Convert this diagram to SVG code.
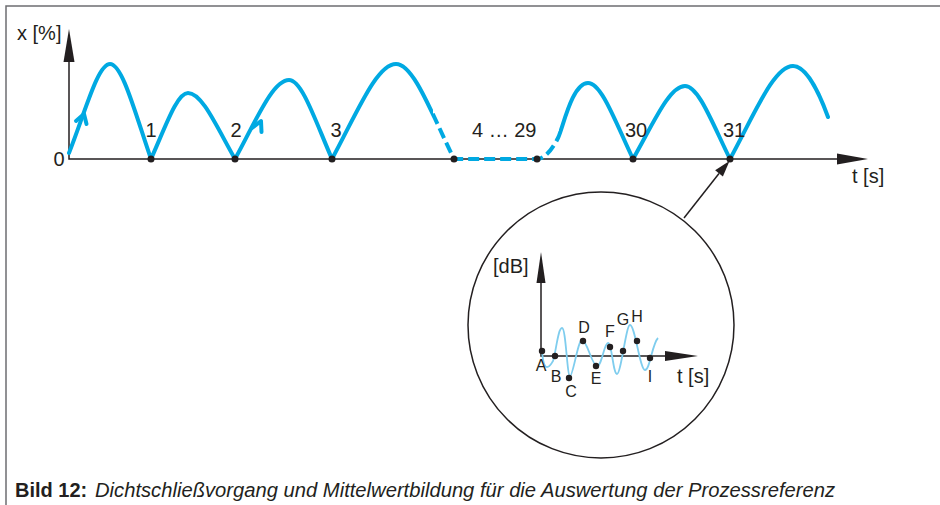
<svg xmlns="http://www.w3.org/2000/svg" width="940" height="505" viewBox="0 0 940 505">
<style>
.lbl{font-family:"Liberation Sans",Arial,sans-serif;font-size:20px;fill:#231f20}
.sm{font-family:"Liberation Sans",Arial,sans-serif;font-size:16px;fill:#231f20;text-anchor:middle}
.mid{text-anchor:middle}
.ax{stroke:#231f20;stroke-width:1.5;fill:none}
.head{fill:#231f20;stroke:none}
.curve{fill:none;stroke:#00a9e2;stroke-width:4;stroke-linecap:round;stroke-linejoin:round}
.dash{stroke-dasharray:11 5;stroke-linecap:butt}
.dot{fill:#231f20}
.wave{fill:none;stroke:#7fcdee;stroke-width:1.8}
</style>
<defs>
<clipPath id="solidClip"><rect x="0" y="0" width="433" height="505"/><rect x="559" y="0" width="381" height="505"/></clipPath>
<clipPath id="dashClip"><rect x="433" y="0" width="126" height="505"/></clipPath>
</defs>
<rect width="940" height="505" fill="#ffffff"/>
<g id="frame">
<path d="M6,505 V6 H940" fill="none" stroke="#6d6e71" stroke-width="1.5"/>
</g>
<g id="main-chart">
<path class="ax" d="M69,55 V159 H845"/>
<polygon class="head" points="69,29 74.5,62 63.5,62"/>
<polygon class="head" points="868,159 837,153.5 837,164.5"/>
<text class="lbl" x="17" y="40">x [%]</text>
<text class="lbl mid" x="59" y="166">0</text>
<text class="lbl" x="852" y="183">t [s]</text>
<g id="signal">
<path class="curve" clip-path="url(#solidClip)" d="M69,153 C85.4,111.5 97.7,64 110,64 C122.3,64 134.6,111.5 151,159 C165.8,126 176.9,93 188,93 C202.1,93 216.2,126 235,159 C256.6,119.5 272.8,80 289,80 C301.9,80 314.8,119.5 332,159 C357.6,111.5 376.8,64 396,64 C413.4,64 430.8,111.5 454,159 L537,159 C545,159 553,148 558,138 C563,128 572,83 588,83 C601.5,83 615,121 633,159 C653.8,122.5 669.4,86 685,86 C698.5,86 712,122.5 730,159 C755.2,112.5 774.1,66 793,66 C806,66 819,92 828,117"/>
<path class="curve dash" clip-path="url(#dashClip)" d="M396,64 C413.4,64 430.8,111.5 454,159 L537,159 C545,159 553,148 558,138 C563,128 572,83 588,83"/>
<path class="curve" stroke-width="3" d="M76,121 L84,114 L86.5,124"/>
<path class="curve" stroke-width="3" d="M252,128 L261,121 L261.5,132"/>
</g>
<g id="points">
<circle class="dot" cx="151" cy="159" r="3.5"/>
<circle class="dot" cx="235" cy="159" r="3.5"/>
<circle class="dot" cx="332" cy="159" r="3.5"/>
<circle class="dot" cx="454" cy="159" r="3.5"/>
<circle class="dot" cx="537" cy="159" r="3.5"/>
<circle class="dot" cx="633" cy="159" r="3.5"/>
<circle class="dot" cx="730" cy="159" r="3.5"/>
</g>
<g id="point-labels">
<text class="lbl mid" x="151" y="137">1</text>
<text class="lbl mid" x="236" y="137">2</text>
<text class="lbl mid" x="336" y="137">3</text>
<text class="lbl" x="472" y="137">4 … 29</text>
<text class="lbl mid" x="636" y="137">30</text>
<text class="lbl mid" x="734" y="137">31</text>
</g>
</g>
<g id="connectors">
<line x1="684" y1="218" x2="719" y2="173.5" stroke="#231f20" stroke-width="1.5"/>
<polygon class="head" points="729.5,161 722.9,176.5 715.1,170.3"/>
</g>
<g id="zoom-circle">
<circle cx="601" cy="325" r="133" fill="none" stroke="#231f20" stroke-width="1.5"/>
<path class="ax" d="M541,275 V356 H670"/>
<polygon class="head" points="541,252 545.5,283 536.5,283"/>
<polygon class="head" points="698,356 665,351 665,361"/>
<text class="lbl" x="493" y="273">[dB]</text>
<text class="lbl" x="677" y="383">t [s]</text>
<path class="wave" d="M542,351 C543,362 544,367 547,367 C550,367 551,364 553,361 C556,352 558,328 562,328 C566,328 567,376 570,376 C573,376 578,340 582,340 C587,340 592,366 597,366 C602,366 604,343 608,343 C612,343 613,374 617,374 C621,374 626,325 630,325 C635,325 640,370 645,370 C650,370 652,344 658,338"/>
<circle class="dot" cx="542" cy="351" r="3.2"/>
<circle class="dot" cx="555" cy="356" r="3.2"/>
<circle class="dot" cx="569" cy="378" r="3.2"/>
<circle class="dot" cx="583" cy="341" r="3.2"/>
<circle class="dot" cx="596" cy="366" r="3.2"/>
<circle class="dot" cx="610" cy="347" r="3.2"/>
<circle class="dot" cx="623" cy="351" r="3.2"/>
<circle class="dot" cx="637" cy="341" r="3.2"/>
<circle class="dot" cx="650" cy="358" r="3.2"/>
<text class="sm" x="541" y="371">A</text>
<text class="sm" x="556" y="382">B</text>
<text class="sm" x="571" y="397">C</text>
<text class="sm" x="584" y="333">D</text>
<text class="sm" x="596" y="384">E</text>
<text class="sm" x="610" y="337">F</text>
<text class="sm" x="623" y="325">G</text>
<text class="sm" x="637" y="322">H</text>
<text class="sm" x="650" y="382">I</text>
</g>
<g id="caption">
<text x="15" y="497" font-family="'Liberation Sans',Arial,sans-serif" font-size="20" font-weight="bold" fill="#231f20">Bild 12:</text>
<text x="95" y="497" font-family="'Liberation Sans',Arial,sans-serif" font-size="20" font-style="italic" fill="#231f20" textLength="740" lengthAdjust="spacingAndGlyphs">Dichtschließvorgang und Mittelwertbildung für die Auswertung der Prozessreferenz</text>
</g>
</svg>
